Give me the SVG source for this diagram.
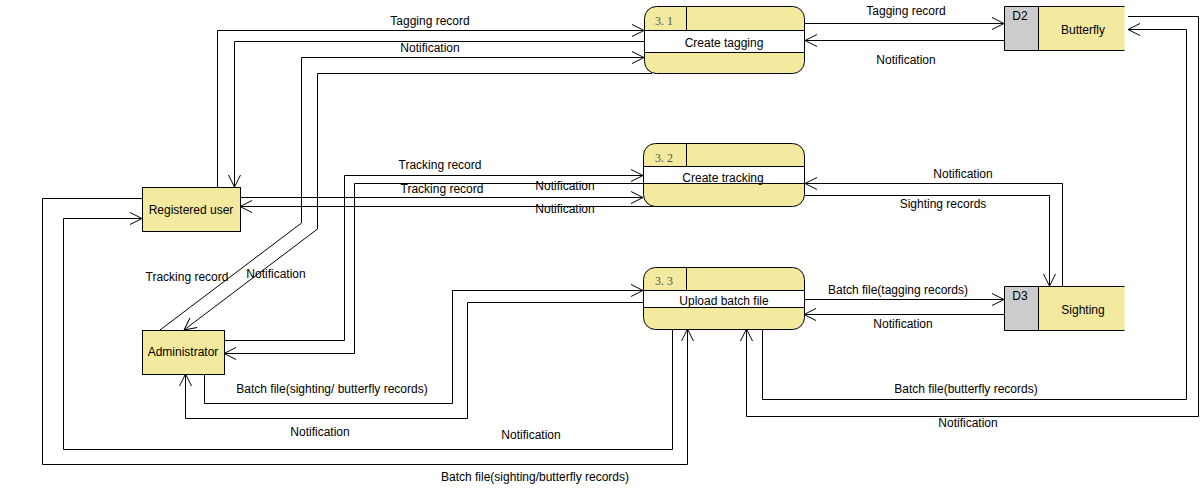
<svg xmlns="http://www.w3.org/2000/svg" width="1204" height="496" viewBox="0 0 1204 496">
<style>
text{font-family:"Liberation Sans",Arial,sans-serif;font-size:12px;fill:#000}
.lbl{text-anchor:middle}
.num{font-family:"Liberation Serif","DejaVu Serif",serif;font-size:12px;fill:#555}
.proc{fill:#f3e99f;stroke:#000;stroke-width:1}
.band{fill:#fff;stroke:#000;stroke-width:1}
.ent{fill:#f3e99f;stroke:#000;stroke-width:1}
.gray{fill:#cccccc}
.yel{fill:#f3e99f}
.ln{fill:none;stroke:#000;stroke-width:1}
.c{fill:none;stroke:#000;stroke-width:1;marker-end:url(#arr)}
</style>
<defs>
<marker id="arr" markerUnits="userSpaceOnUse" viewBox="0 0 14 14" markerWidth="14" markerHeight="14" refX="13" refY="7" orient="auto">
<path d="M1,1 L13,7 L1,13" fill="none" stroke="#000" stroke-width="1"/>
</marker>
</defs>
<rect width="1204" height="496" fill="#fff"/>

<g id="connectors">
<path class="c" d="M217.5,187 V30.5 H644"/>
<path class="c" d="M644,41.5 H234.5 V187"/>
<path class="c" d="M160,330 L301.5,223 V57.5 H644"/>
<path class="c" d="M652,73.5 H317.5 V229 L184,330"/>
<path class="c" d="M805,23.5 H1004"/>
<path class="c" d="M1004,40.5 H805"/>
<path class="c" d="M1128,16.5 H1198.5 V416.5 H746.5 V329"/>
<path class="c" d="M762.5,329 V399.5 H1186.5 V29.5 H1128"/>
<path class="c" d="M224,340.5 H344.5 V175.5 H643"/>
<path class="c" d="M643,183.5 H354.5 V353.5 H224"/>
<path class="c" d="M240,197.5 H643"/>
<path class="c" d="M658,206.5 H240"/>
<path class="c" d="M1062.5,286 V183.5 H805"/>
<path class="c" d="M805,195.5 H1049.5 V286"/>
<path class="c" d="M804,299.5 H1004"/>
<path class="c" d="M1004,314.5 H804"/>
<path class="c" d="M204.5,374 V403.5 H452.5 V290.5 H643"/>
<path class="c" d="M643,302.5 H467.5 V418.5 H185.5 V374"/>
<path class="c" d="M142,198.5 H42.5 V464.5 H687.5 V329"/>
<path class="c" d="M672.5,329 V449.5 H63.5 V218.5 H142"/>
</g>

<g id="labels">
<text class="lbl" x="430" y="25">Tagging record</text>
<text class="lbl" x="430" y="52">Notification</text>
<text class="lbl" x="906" y="15">Tagging record</text>
<text class="lbl" x="906" y="64">Notification</text>
<text class="lbl" x="440" y="169">Tracking record</text>
<text class="lbl" x="442" y="193">Tracking record</text>
<text class="lbl" x="565" y="190">Notification</text>
<text class="lbl" x="565" y="213">Notification</text>
<text class="lbl" x="963" y="178">Notification</text>
<text class="lbl" x="943" y="208">Sighting records</text>
<text class="lbl" x="187" y="281">Tracking record</text>
<text class="lbl" x="276" y="278">Notification</text>
<text class="lbl" x="898" y="294">Batch file(tagging records)</text>
<text class="lbl" x="903" y="328">Notification</text>
<text class="lbl" x="332" y="393">Batch file(sighting/ butterfly records)</text>
<text class="lbl" x="320" y="436">Notification</text>
<text class="lbl" x="531" y="439">Notification</text>
<text class="lbl" x="535" y="481">Batch file(sighting/butterfly records)</text>
<text class="lbl" x="966" y="393">Batch file(butterfly records)</text>
<text class="lbl" x="968" y="427">Notification</text>
</g>

<g id="p31">
<rect class="proc" x="644.5" y="6.5" width="160" height="67" rx="12"/>
<rect class="band" x="644.5" y="30.5" width="160" height="22"/>
<line class="ln" x1="686.5" y1="6.5" x2="686.5" y2="30.5"/>
<text class="num" x="655" y="25">3. 1</text>
<text class="lbl" x="724" y="47">Create tagging</text>
</g>

<g id="p32">
<rect class="proc" x="643.5" y="143.5" width="161" height="63" rx="12"/>
<rect class="band" x="643.5" y="166.5" width="161" height="17"/>
<line class="ln" x1="686.5" y1="143.5" x2="686.5" y2="166.5"/>
<text class="num" x="655" y="162">3. 2</text>
<text class="lbl" x="723" y="182">Create tracking</text>
</g>

<g id="p33">
<rect class="proc" x="643.5" y="267.5" width="161" height="62" rx="12"/>
<rect class="band" x="643.5" y="290.5" width="161" height="17"/>
<line class="ln" x1="686.5" y1="267.5" x2="686.5" y2="290.5"/>
<text class="num" x="655" y="285">3. 3</text>
<text class="lbl" x="724" y="305">Upload batch file</text>
</g>

<g id="d2">
<rect class="gray" x="1004.5" y="6.5" width="34" height="44"/>
<rect class="yel" x="1038.5" y="6.5" width="86" height="44"/>
<path class="ln" d="M1124.5,6.5 H1004.5 V50.5 H1124.5 M1038.5,6.5 V50.5"/>
<text class="lbl" x="1020" y="20">D2</text>
<text class="lbl" x="1083" y="34">Butterfly</text>
</g>

<g id="d3">
<rect class="gray" x="1004.5" y="286.5" width="34" height="44"/>
<rect class="yel" x="1038.5" y="286.5" width="86" height="44"/>
<path class="ln" d="M1124.5,286.5 H1004.5 V330.5 H1124.5 M1038.5,286.5 V330.5"/>
<text class="lbl" x="1020" y="300">D3</text>
<text class="lbl" x="1083" y="314">Sighting</text>
</g>

<g id="reguser">
<rect class="ent" x="142.5" y="187.5" width="98" height="44"/>
<text class="lbl" x="191" y="214">Registered user</text>
</g>

<g id="admin">
<rect class="ent" x="142.5" y="330.5" width="82" height="44"/>
<text class="lbl" x="183" y="356">Administrator</text>
</g>
</svg>
